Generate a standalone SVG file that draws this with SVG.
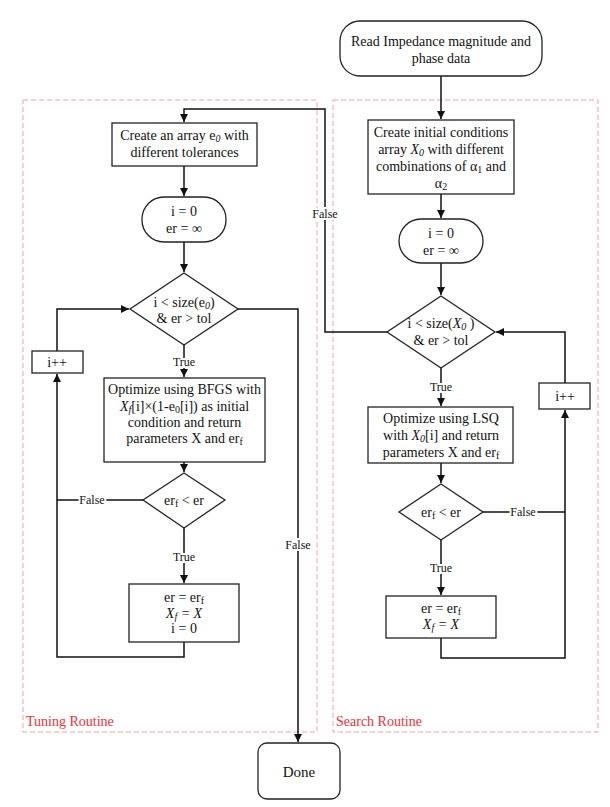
<svg xmlns="http://www.w3.org/2000/svg" width="610" height="807" viewBox="0 0 610 807">
<style>
text{font-family:"Liberation Serif","Times New Roman",serif;fill:#111;}
.t{font-size:14px;text-anchor:middle;dominant-baseline:central;}
.lb{font-size:12px;text-anchor:middle;dominant-baseline:central;stroke:#fff;stroke-width:4px;paint-order:stroke;}
.rl{font-size:14px;fill:#e8323a;}
.shape{fill:#fff;stroke:#222;stroke-width:1.3;}
.edge{fill:none;stroke:#111;stroke-width:1.5;}
.zone{fill:none;stroke:#f0a0a0;stroke-width:1;stroke-dasharray:5,3;}
.i{font-style:italic;}
</style>
<defs>
<marker id="ah" viewBox="0 0 10 10" refX="10" refY="5" markerWidth="8" markerHeight="8" markerUnits="userSpaceOnUse" orient="auto">
<path d="M0,0 L10,5 L0,10 z" fill="#111"/>
</marker>
</defs>

<g id="zones">
<rect class="zone" x="23" y="100" width="294" height="632"/>
<rect class="zone" x="333" y="100" width="265" height="632"/>
<text class="rl" x="26" y="726">Tuning Routine</text>
<text class="rl" x="336" y="726">Search Routine</text>
</g>

<g id="connectors">
<path class="edge" d="M441,76 V119" marker-end="url(#ah)"/>
<path class="edge" d="M441,194 V218" marker-end="url(#ah)"/>
<path class="edge" d="M441,263 V295" marker-end="url(#ah)"/>
<path class="edge" d="M441,368 V406" marker-end="url(#ah)"/>
<path class="edge" d="M441,463 V483" marker-end="url(#ah)"/>
<path class="edge" d="M441,540 V595" marker-end="url(#ah)"/>
<path class="edge" d="M441,638 V658 H565 V410" marker-end="url(#ah)"/>
<path class="edge" d="M483,512 H565"/>
<path class="edge" d="M565,383 V332 H496" marker-end="url(#ah)"/>
<path class="edge" d="M387,332 H325 V109 H184 V122" marker-end="url(#ah)"/>
<path class="edge" d="M184,166 V196" marker-end="url(#ah)"/>
<path class="edge" d="M184,242 V272" marker-end="url(#ah)"/>
<path class="edge" d="M184,345 V377" marker-end="url(#ah)"/>
<path class="edge" d="M184,462 V472" marker-end="url(#ah)"/>
<path class="edge" d="M184,528 V583" marker-end="url(#ah)"/>
<path class="edge" d="M184,642 V657 H57 V374" marker-end="url(#ah)"/>
<path class="edge" d="M143,500 H57"/>
<path class="edge" d="M57,351 V309 H129" marker-end="url(#ah)"/>
<path class="edge" d="M238,309 H298 V742" marker-end="url(#ah)"/>
<text class="lb" x="325" y="214">False</text>
<text class="lb" x="441" y="387">True</text>
<text class="lb" x="441" y="568">True</text>
<text class="lb" x="523" y="512">False</text>
<text class="lb" x="184" y="362">True</text>
<text class="lb" x="184" y="557">True</text>
<text class="lb" x="92" y="500">False</text>
<text class="lb" x="298" y="545">False</text>
</g>

<g id="read">
<rect class="shape" x="340" y="21" width="202" height="55" rx="20"/>
<text class="t" x="441" y="41">Read Impedance magnitude and</text>
<text class="t" x="441" y="58">phase data</text>
</g>

<g id="create-x0">
<rect class="shape" x="368" y="120" width="146" height="74"/>
<text class="t" x="441" y="132">Create initial conditions</text>
<text class="t" x="441" y="149">array <tspan class="i">X</tspan><tspan class="i" font-size="10" dy="3">0</tspan><tspan dy="-3"> with different</tspan></text>
<text class="t" x="441" y="166">combinations of  α<tspan font-size="10" dy="3">1</tspan><tspan dy="-3"> and</tspan></text>
<text class="t" x="441" y="183">α<tspan font-size="10" dy="3">2</tspan></text>
</g>

<g id="init-right">
<rect class="shape" x="399" y="219" width="84" height="44" rx="22"/>
<text class="t" x="441" y="233">i = 0</text>
<text class="t" x="441" y="250">er = ∞</text>
</g>

<g id="cond-right">
<polygon class="shape" points="441,296 495,332 441,368 387,332"/>
<text class="t" x="441" y="323">i &lt; size(<tspan class="i">X</tspan><tspan class="i" font-size="10" dy="3">0</tspan><tspan dy="-3"> )</tspan></text>
<text class="t" x="441" y="340">&amp; er &gt; tol</text>
</g>

<g id="inc-right">
<rect class="shape" x="539" y="383" width="51" height="26"/>
<text class="t" x="565" y="396">i++</text>
</g>

<g id="lsq">
<rect class="shape" x="368" y="407" width="145" height="56"/>
<text class="t" x="441" y="418">Optimize using LSQ</text>
<text class="t" x="441" y="435">with <tspan class="i">X</tspan><tspan class="i" font-size="10" dy="3">0</tspan><tspan dy="-3">[i] and return</tspan></text>
<text class="t" x="441" y="452">parameters X and er<tspan font-size="10" dy="3">f</tspan></text>
</g>

<g id="cmp-right">
<polygon class="shape" points="441,484 483,512 441,540 399,512"/>
<text class="t" x="441" y="512">er<tspan font-size="10" dy="3">f</tspan><tspan dy="-3"> &lt; er</tspan></text>
</g>

<g id="update-right">
<rect class="shape" x="386" y="596" width="110" height="42"/>
<text class="t" x="441" y="608">er = er<tspan font-size="10" dy="3">f</tspan></text>
<text class="t" x="441" y="624"><tspan class="i">X</tspan><tspan class="i" font-size="10" dy="3">f</tspan><tspan dy="-3" class="i"> = X</tspan></text>
</g>

<g id="create-e0">
<rect class="shape" x="112" y="123" width="145" height="43"/>
<text class="t" x="184.5" y="135">Create an array e<tspan class="i" font-size="10" dy="3">0</tspan><tspan dy="-3"> with</tspan></text>
<text class="t" x="184.5" y="152">different tolerances</text>
</g>

<g id="init-left">
<rect class="shape" x="142" y="197" width="84" height="45" rx="22"/>
<text class="t" x="184" y="211">i = 0</text>
<text class="t" x="184" y="228">er = ∞</text>
</g>

<g id="cond-left">
<polygon class="shape" points="184,273 238,309 184,345 130,309"/>
<text class="t" x="184" y="302">i &lt; size(e<tspan class="i" font-size="10" dy="3">0</tspan><tspan dy="-3">)</tspan></text>
<text class="t" x="184" y="318">&amp; er &gt; tol</text>
</g>

<g id="inc-left">
<rect class="shape" x="32" y="351" width="51" height="22"/>
<text class="t" x="57" y="362">i++</text>
</g>

<g id="bfgs">
<rect class="shape" x="104" y="378" width="161" height="84"/>
<text class="t" x="184.5" y="389">Optimize using BFGS with</text>
<text class="t" x="184.5" y="406"><tspan class="i">X</tspan><tspan class="i" font-size="10" dy="3">f</tspan><tspan dy="-3">[i]×(1-e</tspan><tspan font-size="10" dy="3">0</tspan><tspan dy="-3">[i]) as initial</tspan></text>
<text class="t" x="184.5" y="422">condition and return</text>
<text class="t" x="184.5" y="438">parameters X and er<tspan font-size="10" dy="3">f</tspan></text>
</g>

<g id="cmp-left">
<polygon class="shape" points="184,473 225,500 184,528 143,500"/>
<text class="t" x="184" y="500">er<tspan font-size="10" dy="3">f</tspan><tspan dy="-3"> &lt; er</tspan></text>
</g>

<g id="update-left">
<rect class="shape" x="129" y="584" width="110" height="58"/>
<text class="t" x="184" y="597">er = er<tspan font-size="10" dy="3">f</tspan></text>
<text class="t" x="184" y="613"><tspan class="i">X</tspan><tspan class="i" font-size="10" dy="3">f</tspan><tspan dy="-3" class="i"> = X</tspan></text>
<text class="t" x="184" y="628">i = 0</text>
</g>

<g id="done">
<rect class="shape" x="258" y="743" width="82" height="56" rx="9"/>
<text class="t" x="299" y="772" font-size="15" style="font-size:15px">Done</text>
</g>
</svg>
